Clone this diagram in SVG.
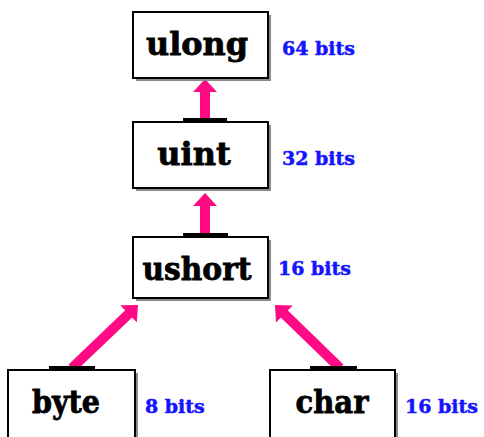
<svg xmlns="http://www.w3.org/2000/svg" width="484" height="437" viewBox="0 0 484 437">
<style>
.box{fill:#fff;stroke:#000;stroke-width:2}
.shadow{fill:#8a8a8a}
.bar{fill:#000}
.name{font-family:"DejaVu Serif",serif;font-weight:bold;font-size:32px;fill:#000;stroke:#000;stroke-width:0.8;text-anchor:middle}
.bits{font-family:"DejaVu Serif",serif;font-weight:bold;font-size:19px;fill:#1414ff;stroke:#1414ff;stroke-width:0.5}
.conn{stroke:#ff0a84;stroke-width:10;fill:none;marker-end:url(#head)}
</style>
<defs>
<marker id="head" viewBox="0 0 13 24" refX="2" refY="12" markerWidth="13" markerHeight="24" markerUnits="userSpaceOnUse" orient="auto">
<path d="M0,0 L13,12 L0,24 z" fill="#ff0a84"/>
</marker>
</defs>
<rect width="484" height="437" fill="#fff"/>
<g id="connectors">
<path class="conn" d="M205,119 L205,90"/>
<path class="conn" d="M205,234 L205,204"/>
<path class="conn" d="M72,368 L130,312.6"/>
<path class="conn" d="M340,368 L282.9,312.7"/>
<rect class="bar" x="183" y="118" width="44" height="4"/>
<rect class="bar" x="183" y="233" width="45" height="4"/>
<rect class="bar" x="49" y="366" width="46" height="4"/>
<rect class="bar" x="310" y="366" width="47" height="4"/>
</g>
<g id="ulong">
<rect class="shadow" x="136" y="15" width="135" height="66"/>
<rect class="box" x="133" y="12" width="135" height="66"/>
<text class="name" x="197" y="55" textLength="102" lengthAdjust="spacingAndGlyphs">ulong</text>
<text class="bits" x="282" y="55">64 bits</text>
</g>
<g id="uint">
<rect class="shadow" x="136" y="125" width="135" height="66"/>
<rect class="box" x="133" y="122" width="135" height="66"/>
<text class="name" x="194" y="165">uint</text>
<text class="bits" x="282" y="165">32 bits</text>
</g>
<g id="ushort">
<rect class="shadow" x="136" y="240" width="135" height="61"/>
<rect class="box" x="133" y="237" width="135" height="61"/>
<text class="name" x="197" y="280" textLength="109" lengthAdjust="spacingAndGlyphs">ushort</text>
<text class="bits" x="278" y="275">16 bits</text>
</g>
<g id="byte">
<rect class="shadow" x="11" y="373" width="127" height="70"/>
<rect class="box" x="8" y="370" width="127" height="70"/>
<text class="name" x="66" y="413" textLength="68" lengthAdjust="spacingAndGlyphs">byte</text>
<text class="bits" x="145" y="413">8 bits</text>
</g>
<g id="char">
<rect class="shadow" x="273" y="373" width="125" height="70"/>
<rect class="box" x="270" y="370" width="125" height="70"/>
<text class="name" x="332" y="413" textLength="73" lengthAdjust="spacingAndGlyphs">char</text>
<text class="bits" x="405" y="413">16 bits</text>
</g>
</svg>
